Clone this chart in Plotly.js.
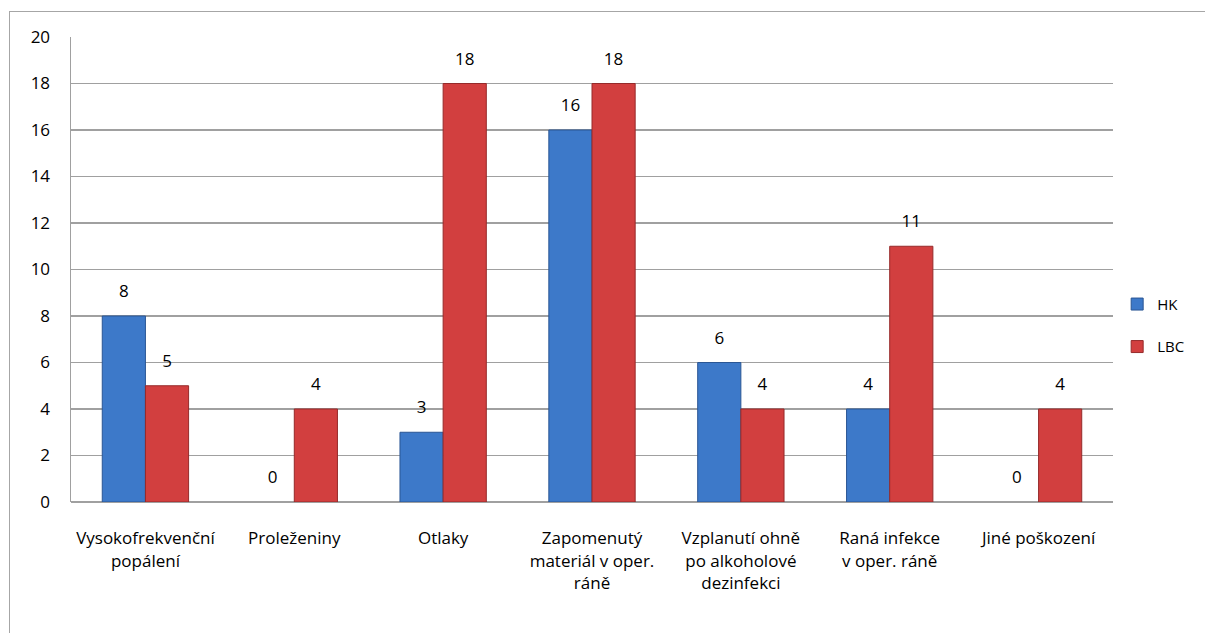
<!DOCTYPE html>
<html>
<head>
<meta charset="utf-8">
<script src="https://cdn.plot.ly/plotly-3.0.1.min.js"></script>
<style>
  html, body { margin: 0; padding: 0; background: #fff; }
  #wrap { position: relative; width: 1205px; height: 633px; overflow: hidden; }
  #chart { position: absolute; left: 0; top: 0; width: 1205px; height: 633px; }
  #frame { position: absolute; left: 9px; top: 11px; width: 1300px; height: 700px;
           border-top: 1.5px solid #a6a6a6; border-left: 1.5px solid #a6a6a6; pointer-events: none; }
</style>
</head>
<body>
<div id="wrap">
  <div id="chart"></div>
  <div id="frame"></div>
</div>
<script>
const categories = [
  'Vysokofrekvenční<br>popálení',
  'Proleženiny',
  'Otlaky',
  'Zapomenutý<br>materiál v oper.<br>ráně',
  'Vzplanutí ohně<br>po alkoholové<br>dezinfekci',
  'Raná infekce<br>v oper. ráně',
  'Jiné poškození'
];
const hkValues = [8, 0, 3, 16, 6, 4, 0];
const lbcValues = [5, 4, 18, 18, 4, 11, 4];
const seriesNames = ['HK', 'LBC'];
const yTicks = [0, 2, 4, 6, 8, 10, 12, 14, 16, 18, 20];

const font = "'Open Sans', 'Liberation Sans', sans-serif";
const colors = ['#3d79c9', '#d23f3f'];
const edges = ['#2a5694', '#962a2a'];
const valuesList = [hkValues, lbcValues];

const traces = [];
valuesList.forEach((vals, i) => {
  traces.push({
    type: 'bar', name: seriesNames[i], x: categories, y: vals,
    marker: {color: colors[i], line: {color: edges[i], width: vals.map(v => v > 0 ? 1 : 0)}},
    legendgroup: 'g' + i, offsetgroup: 'g' + i, hoverinfo: 'skip'
  });
});
valuesList.forEach((vals, i) => {
  traces.push({
    type: 'scatter', mode: 'markers+text', x: categories, y: vals,
    text: vals.map(String), textposition: 'top center', cliponaxis: false,
    textfont: {family: font, size: 17, color: '#000'},
    marker: {size: 22, opacity: 0, color: colors[i]},
    showlegend: false, offsetgroup: 'g' + i, hoverinfo: 'skip'
  });
});

const layout = {
  width: 1205, height: 633,
  margin: {l: 71, r: 92, t: 37, b: 131, autoexpand: false},
  paper_bgcolor: '#fff', plot_bgcolor: '#fff',
  barmode: 'group', bargap: 0.42, bargroupgap: 0,
  scattermode: 'group', scattergap: 0.42,
  font: {family: font, size: 17, color: '#000'},
  showlegend: true,
  legend: {x: 1.004, y: 0.38, xanchor: 'left', yanchor: 'middle',
           font: {family: font, size: 15, color: '#000'}, tracegroupgap: 20,
           bgcolor: 'rgba(0,0,0,0)'},
  xaxis: {
    type: 'category', showgrid: false, zeroline: false,
    showline: false, ticks: 'outside', ticklen: 21, tickcolor: 'rgba(0,0,0,0)',
    tickfont: {family: font, size: 17, color: '#000'}, automargin: false
  },
  yaxis: {
    range: [0, 20], tickvals: yTicks, ticktext: yTicks.map(String),
    showgrid: true, gridcolor: '#a0a0a0', gridwidth: 1.5,
    showline: true, linecolor: '#a0a0a0', linewidth: 1.5,
    zeroline: true, zerolinecolor: '#a0a0a0', zerolinewidth: 1.5,
    ticks: 'outside', ticklen: 16, tickcolor: 'rgba(0,0,0,0)',
    tickfont: {family: font, size: 17, color: '#000'}, automargin: false
  }
};

Plotly.newPlot('chart', traces, layout, {displayModeBar: false, staticPlot: true});
</script>
</body>
</html>
